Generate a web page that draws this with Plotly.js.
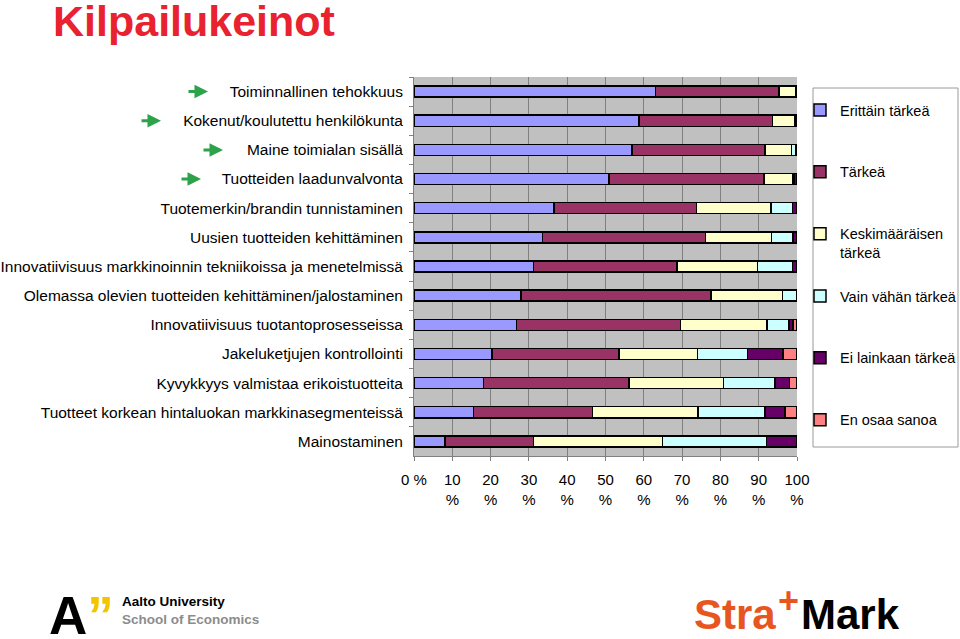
<!DOCTYPE html>
<html>
<head>
<meta charset="utf-8">
<script src="https://cdn.plot.ly/plotly-3.0.1.min.js"></script>
<style>
  body { margin: 0; background: #fff; }
  #chart { width: 960px; height: 639px; }
</style>
</head>
<body>
<div id="chart"></div>
<script>
// categories, top to bottom
const categories = [
  'Toiminnallinen tehokkuus',
  'Kokenut/koulutettu henkilökunta',
  'Maine toimialan sisällä',
  'Tuotteiden laadunvalvonta',
  'Tuotemerkin/brandin tunnistaminen',
  'Uusien tuotteiden kehittäminen',
  'Innovatiivisuus markkinoinnin tekniikoissa ja menetelmissä',
  'Olemassa olevien tuotteiden kehittäminen/jalostaminen',
  'Innovatiivisuus tuotantoprosesseissa',
  'Jakeluketjujen kontrollointi',
  'Kyvykkyys valmistaa erikoistuotteita',
  'Tuotteet korkean hintaluokan markkinasegmenteissä',
  'Mainostaminen'
];

// shares in %
const erittainTarkea = [63.0, 58.7, 56.9, 50.9, 36.6, 33.5, 31.2, 28.0, 26.8, 20.4, 18.1, 15.5, 8.1];
const tarkea         = [32.3, 34.9, 34.8, 40.5, 37.2, 42.6, 37.5, 49.5, 42.8, 33.1, 38.0, 31.1, 23.1];
const keskimaarainen = [4.3, 5.9, 6.9, 7.6, 19.4, 17.3, 21.0, 18.7, 22.6, 20.5, 24.7, 27.5, 33.7];
const vainVahan      = [0, 0, 1.0, 0.3, 5.6, 5.5, 9.1, 3.8, 5.7, 13.1, 13.4, 17.5, 27.2];
const eiLainkaan     = [0.4, 0.5, 0.4, 0.7, 1.2, 1.1, 1.2, 0, 1.1, 9.2, 3.8, 5.3, 7.9];
const enOsaa         = [0, 0, 0, 0, 0, 0, 0, 0, 1.0, 3.7, 2.0, 3.1, 0];

const seriesNames = ['Erittäin tärkeä', 'Tärkeä', 'Keskimääräisen<br>tärkeä',
  'Vain vähän tärkeä', 'Ei lainkaan tärkeä', 'En osaa sanoa'];
const seriesValues = [erittainTarkea, tarkea, keskimaarainen, vainVahan, eiLainkaan, enOsaa];
const seriesColors = ['#9999ff', '#993366', '#ffffcc', '#ccffff', '#660066', '#ff8080'];

const tickVals = [0, 10, 20, 30, 40, 50, 60, 70, 80, 90, 100];
const tickText = ['0 %', '10<br>%', '20<br>%', '30<br>%', '40<br>%', '50<br>%',
  '60<br>%', '70<br>%', '80<br>%', '90<br>%', '100<br>%'];

// rows marked with a green arrow
const arrowRows = [0, 1, 2, 3];
const arrowTipX = [208, 161, 223, 201];

// first three series in the upper legend, the rest in the lower one
const data = seriesValues.map((vals, i) => ({
  type: 'bar',
  orientation: 'h',
  name: seriesNames[i],
  y: categories,
  x: vals,
  legend: i < 3 ? 'legend' : 'legend2',
  legendgroup: 'g' + i,
  marker: { color: seriesColors[i], line: { color: '#000000', width: 1.5 } },
  hoverinfo: 'skip'
}));

// plot area in pixels: x 414..797, y 77..456
const px = (x) => (x - 414) / 383;
const py = (y) => (456 - y) / 379;

const annotations = [];
arrowRows.forEach((r, i) => {
  annotations.push({
    xref: 'paper', yref: 'y', x: px(arrowTipX[i]), y: categories[r],
    text: '', showarrow: true, ax: -21, ay: 0,
    arrowhead: 2, arrowsize: 0.9, arrowwidth: 3, arrowcolor: '#2ca24a'
  });
});

// logos
const logo = [
  { x: 47, y: 615, text: '<b>A<span style="color:#f2c500">\u201D</span></b>', size: 53, color: '#000000' },
  { x: 120, y: 610, text: '<b>Aalto University</b><br><b><span style="color:#8c8c8c">School of Economics</span></b>', size: 13.5, color: '#000000' },
  { x: 692, y: 614, text: '<b>Stra</b>', size: 42, color: '#e8561f' },
  { x: 776, y: 600, text: '<b>+</b>', size: 36, color: '#e8561f' },
  { x: 799, y: 614, text: '<b>Mark</b>', size: 42, color: '#000000' }
];
logo.forEach(l => annotations.push({
  xref: 'paper', yref: 'paper', x: px(l.x), y: py(l.y), xanchor: 'left', yanchor: 'middle',
  align: 'left', text: l.text, showarrow: false,
  font: { family: 'Liberation Sans, Arial, sans-serif', size: l.size, color: l.color }
}));

const legendBase = {
  xanchor: 'left',
  yanchor: 'top',
  traceorder: 'grouped',
  tracegroupgap: 40,
  itemwidth: 30,
  valign: 'top',
  borderwidth: 0,
  bgcolor: 'rgba(0,0,0,0)',
  font: { size: 14.5 }
};

const layout = {
  width: 960,
  height: 639,
  margin: { l: 414, r: 163, t: 77, b: 183, pad: 0, autoexpand: false },
  paper_bgcolor: '#ffffff',
  plot_bgcolor: '#c0c0c0',
  barmode: 'stack',
  bargap: 0.62,
  font: { family: 'Liberation Sans, Arial, sans-serif', size: 14, color: '#000000' },
  title: {
    text: '<b>Kilpailukeinot</b>',
    font: { family: 'Liberation Sans, Arial, sans-serif', size: 43, color: '#e8222e' },
    xref: 'container', yref: 'container', x: 53 / 960, xanchor: 'left',
    y: 1 - 6 / 639, yanchor: 'top'
  },
  xaxis: {
    range: [0, 100],
    tickvals: tickVals,
    ticktext: tickText,
    showgrid: true,
    gridcolor: '#808080',
    gridwidth: 1,
    zeroline: false,
    showline: true,
    linecolor: '#808080',
    ticks: 'outside',
    ticklen: 4,
    tickcolor: '#808080',
    ticklabelstandoff: 6,
    tickfont: { size: 15 },
    fixedrange: true
  },
  yaxis: {
    type: 'category',
    autorange: 'reversed',
    tickson: 'boundaries',
    ticks: 'outside',
    ticklen: 4,
    tickcolor: '#808080',
    showline: true,
    linecolor: '#808080',
    showgrid: false,
    ticklabelstandoff: 7,
    tickfont: { size: 15.5 },
    fixedrange: true
  },
  showlegend: true,
  legend: Object.assign({}, legendBase, { x: px(800), y: py(94) }),
  legend2: Object.assign({}, legendBase, { x: px(800), y: py(280) }),
  shapes: [{
    type: 'rect', xref: 'paper', yref: 'paper',
    x0: px(813), x1: px(958), y0: py(88), y1: py(447),
    line: { color: '#9a9a9a', width: 1 }, fillcolor: 'rgba(0,0,0,0)', layer: 'below'
  }],
  annotations: annotations
};

Plotly.newPlot('chart', data, layout, { displayModeBar: false, staticPlot: true });
</script>
</body>
</html>
